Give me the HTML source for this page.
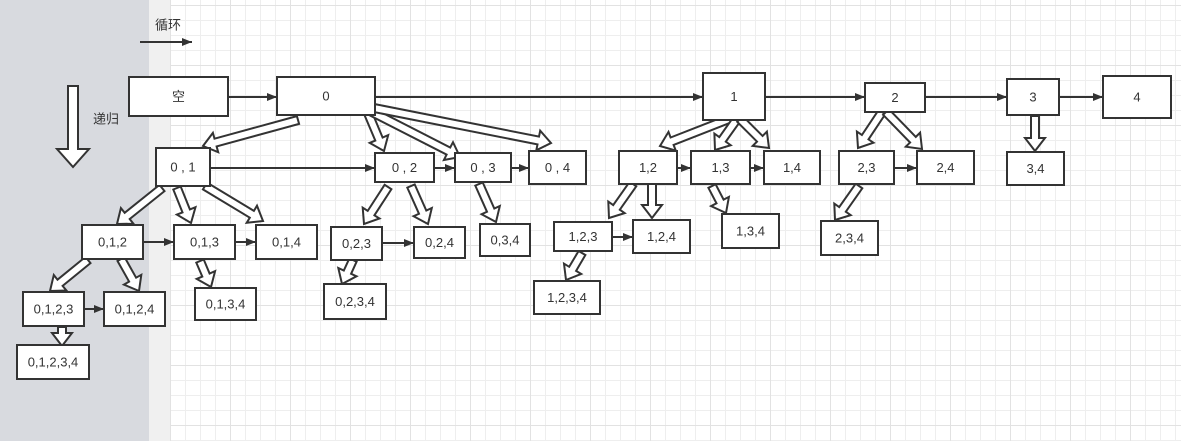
<!DOCTYPE html>
<html><head><meta charset="utf-8"><style>
html,body{margin:0;padding:0;width:1181px;height:441px;overflow:hidden;background:#fff}
#bg{position:absolute;left:0;top:0;width:1181px;height:441px;
background-color:#fff;
background-image:linear-gradient(#e2e2e2 1px,transparent 1px),linear-gradient(90deg,#e2e2e2 1px,transparent 1px),linear-gradient(#eeeeee 1px,transparent 1px),linear-gradient(90deg,#eeeeee 1px,transparent 1px);
background-size:60px 60px,60px 60px,15px 15px,15px 15px;background-position:170px 5px,170px 5px,170px 5px,170px 5px}
#gray{position:absolute;left:0;top:0;width:149px;height:441px;background:#d8dadf}
#strip{position:absolute;left:149px;top:0;width:21px;height:441px;background:#f0f0f0}
svg{position:absolute;left:0;top:0}
text{font-family:"Liberation Sans","Noto Sans CJK SC",sans-serif;font-size:13px;fill:#333;text-anchor:middle;dominant-baseline:central}
</style></head><body>
<div id="bg"></div><div id="gray"></div><div id="strip"></div>
<svg id="s" width="1181" height="441" xmlns="http://www.w3.org/2000/svg">
<defs><marker id="m" markerWidth="10" markerHeight="8" refX="10" refY="4" orient="auto" markerUnits="userSpaceOnUse"><path d="M0,0L10,4L0,8z" fill="#333"/></marker></defs>
<g id="thin" stroke="#333" stroke-width="2" marker-end="url(#m)"></g>
<g id="fat" fill="#fff" stroke="#333" stroke-width="2" stroke-linejoin="miter"></g>
<g id="boxes"></g>
<text x="168" y="25">循环</text>
<text x="106" y="119">递归</text>
</svg>
<script>
var NS="http://www.w3.org/2000/svg";
function el(p,t,a){var e=document.createElementNS(NS,t);for(var k in a)e.setAttribute(k,a[k]);document.getElementById(p).appendChild(e);return e;}
var boxes=[["空",129,77,228,116],["0",277,77,375,115],["1",703,73,765,120],["2",865,83,925,112],["3",1007,79,1059,115],["4",1103,76,1171,118],
["0 , 1",156,148,210,186],["0 , 2",375,153,434,182],["0 , 3",455,153,511,182],["0 , 4",529,151,586,184],
["1,2",619,151,677,184],["1,3",691,151,750,184],["1,4",764,151,820,184],["2,3",839,151,894,184],["2,4",917,151,974,184],["3,4",1007,152,1064,185],
["0,1,2",82,225,143,259],["0,1,3",174,225,235,259],["0,1,4",256,225,317,259],["0,2,3",331,227,382,260],["0,2,4",414,227,465,258],["0,3,4",480,224,530,256],
["1,2,3",554,222,612,251],["1,2,4",633,220,690,253],["1,3,4",722,214,779,248],["2,3,4",821,221,878,255],
["0,1,2,3",23,292,84,326],["0,1,2,4",104,292,165,326],["0,1,3,4",195,288,256,320],["0,2,3,4",324,284,386,319],["1,2,3,4",534,281,600,314],["0,1,2,3,4",17,345,89,379]];
boxes.forEach(function(b){el("boxes","rect",{x:b[1],y:b[2],width:b[3]-b[1],height:b[4]-b[2],fill:"#fff",stroke:"#333","stroke-width":2});
var t=el("boxes","text",{x:(b[1]+b[3])/2,y:(b[2]+b[4])/2});t.textContent=b[0];});
var thin=[[140,42,192,42],[228,97,277,97],[375,97,703,97],[765,97,865,97],[925,97,1007,97],[1059,97,1103,97],
[210,168,375,168],[434,168,455,168],[511,168,529,168],[677,168,691,168],[750,168,764,168],[894,168,917,168],
[143,242,174,242],[235,242,256,242],[382,243,414,243],[612,237,633,237],[84,309,104,309]];
thin.forEach(function(a){el("thin","line",{x1:a[0],y1:a[1],x2:a[2],y2:a[3]});});
function fat(x1,y1,x2,y2,sw,hw,hl){sw=sw||4;hw=hw||10;hl=hl||13;var dx=x2-x1,dy=y2-y1,L=Math.sqrt(dx*dx+dy*dy),ux=dx/L,uy=dy/L,nx=-uy,ny=ux;
var bx=x2-ux*hl,by=y2-uy*hl;var p=[[x1+nx*sw,y1+ny*sw],[bx+nx*sw,by+ny*sw],[bx+nx*hw,by+ny*hw],[x2,y2],[bx-nx*hw,by-ny*hw],[bx-nx*sw,by-ny*sw],[x1-nx*sw,y1-ny*sw]];
el("fat","polygon",{points:p.map(function(q){return q[0].toFixed(1)+","+q[1].toFixed(1)}).join(" ")});}
var F=[[298,120,203,146],[368,113,384,151],[372,112,460,157],[374,108,551,143],
[162,188,117,224],[177,188,191,223],[205,186,263,221],[388,187,364,224],[411,186,428,224],[479,184,496,222],
[88,260,50,291],[121,259,139,291],[200,261,211,287],[353,260,342,284],[62,327,62,346],
[734,117,660,146],[737,119,715,150],[740,119,769,148],[633,184,609,218],[652,184,652,218],[712,186,726,213],
[882,112,858,148],[886,112,922,149],[1035,116,1035,151],[859,186,835,220],[582,253,566,280]];
F.forEach(function(a){fat(a[0],a[1],a[2],a[3]);});
fat(73,86,73,167,5,16,18);
</script>
</body></html>
